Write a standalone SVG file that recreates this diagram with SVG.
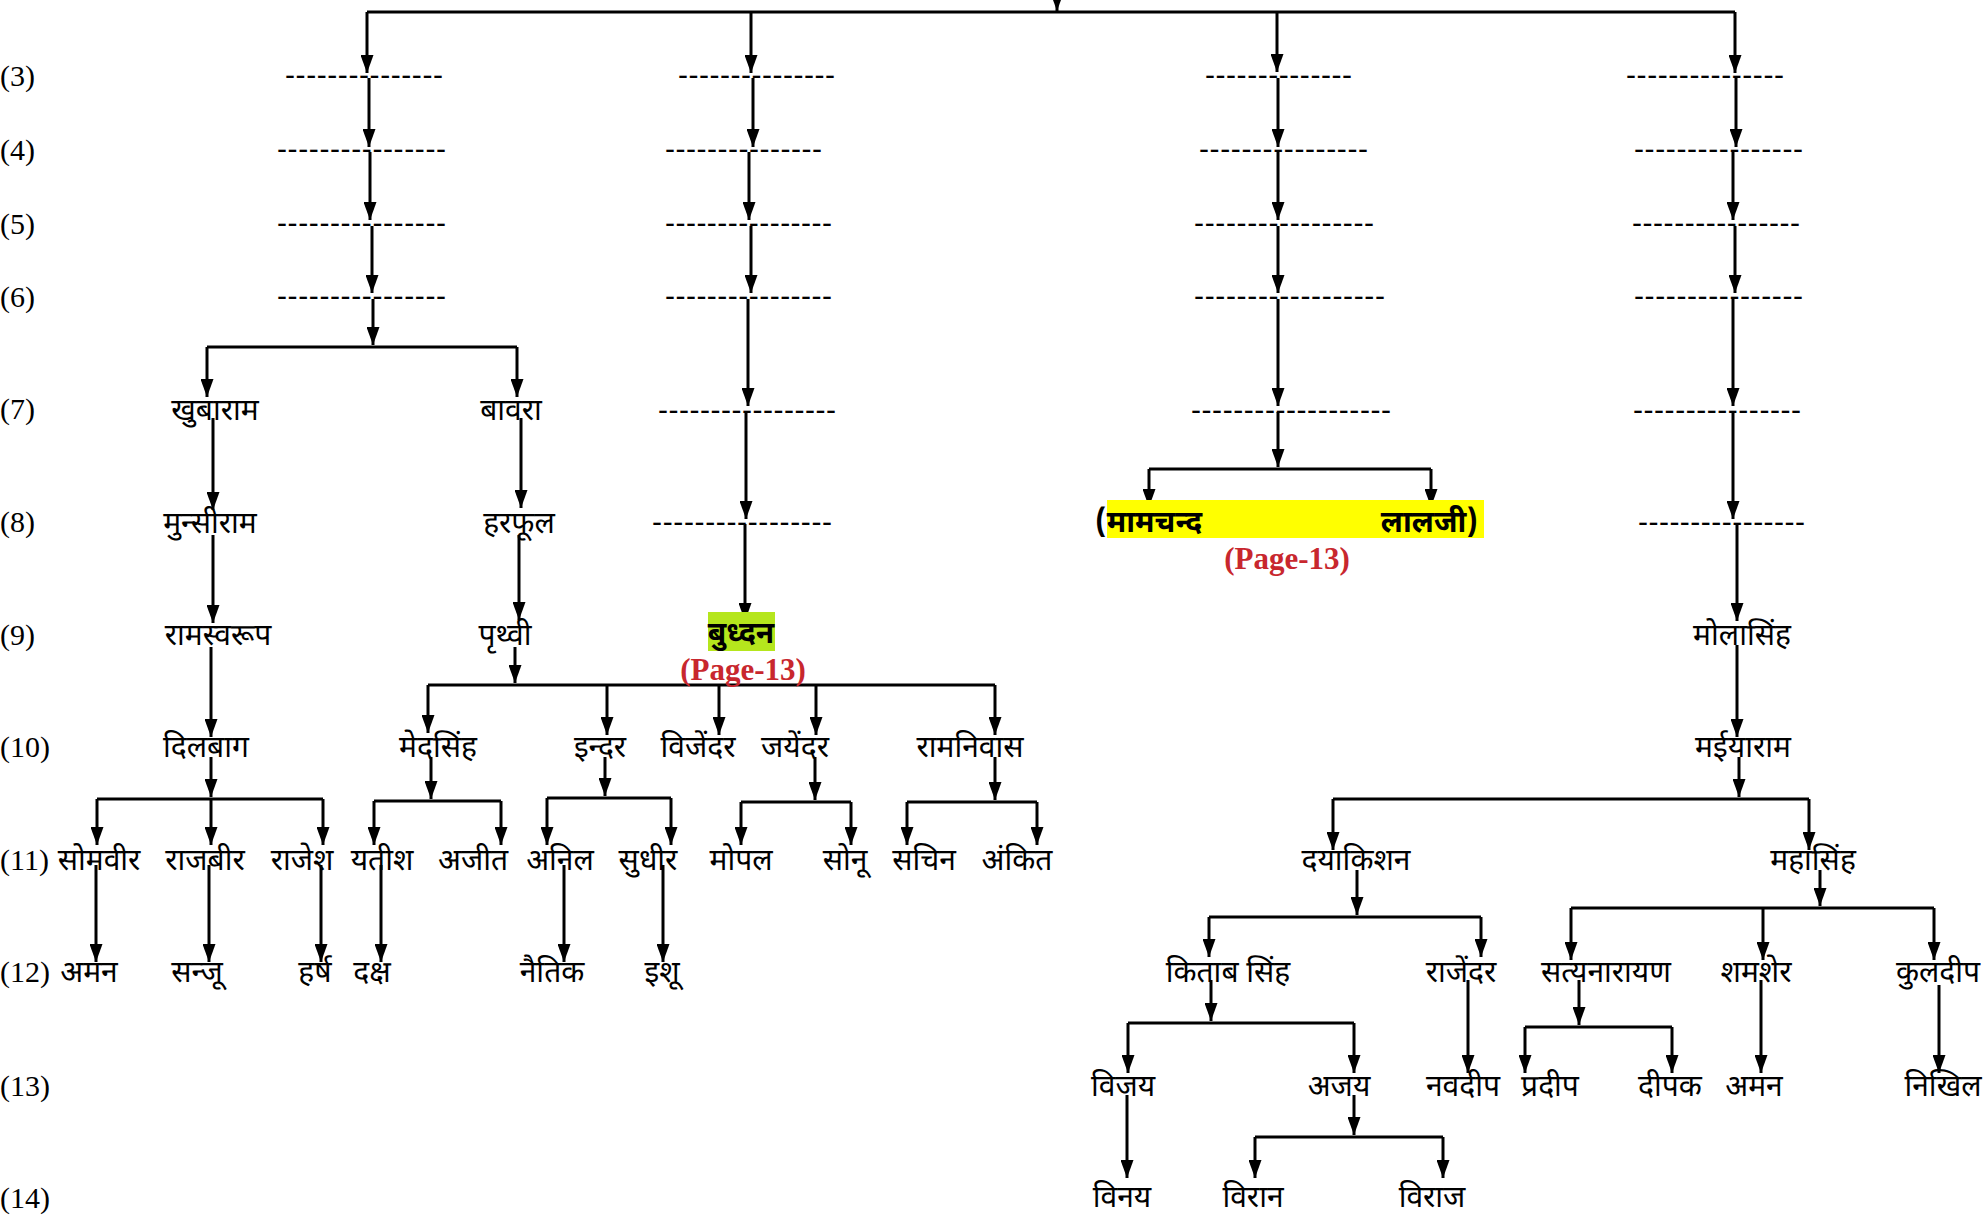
<svg xmlns="http://www.w3.org/2000/svg" width="1986" height="1217" viewBox="0 0 1986 1217">
<style>
.c{stroke:#000;stroke-width:3;fill:none}
.a{marker-end:url(#ah)}
.n{font-family:"Noto Sans Devanagari","Noto Sans",sans-serif;font-size:30px;text-anchor:middle;fill:#000}
.b{font-weight:bold}
.lbl{font-family:"Liberation Serif",serif;font-size:30px;fill:#000}
.d{font-family:"Liberation Sans",sans-serif;font-size:30px;fill:#000}
.pg{font-family:"Liberation Serif",serif;font-weight:bold;font-size:31px;fill:#c8272e;text-anchor:middle}
</style>
<defs>
<marker id="ah" viewBox="0 0 18 13" refX="18" refY="6.5" markerWidth="18" markerHeight="13" markerUnits="userSpaceOnUse" orient="auto"><path d="M0,0 L18,6.5 L0,13 z" fill="#000"/></marker>
</defs>
<rect width="1986" height="1217" fill="#fff"/>

<g id="generation-labels">
<text class="lbl" x="0" y="85.5">(3)</text>
<text class="lbl" x="0" y="159.5">(4)</text>
<text class="lbl" x="0" y="233.5">(5)</text>
<text class="lbl" x="0" y="306.5">(6)</text>
<text class="lbl" x="0" y="419">(7)</text>
<text class="lbl" x="0" y="532">(8)</text>
<text class="lbl" x="0" y="645">(9)</text>
<text class="lbl" x="0" y="757">(10)</text>
<text class="lbl" x="0" y="870">(11)</text>
<text class="lbl" x="0" y="982">(12)</text>
<text class="lbl" x="0" y="1096">(13)</text>
<text class="lbl" x="0" y="1208">(14)</text>
</g>

<g id="placeholders">
<text class="d" x="285" y="85" textLength="158" lengthAdjust="spacing">---------------</text>
<text class="d" x="277" y="159" textLength="169" lengthAdjust="spacing">----------------</text>
<text class="d" x="277" y="233" textLength="169" lengthAdjust="spacing">----------------</text>
<text class="d" x="277" y="306" textLength="169" lengthAdjust="spacing">----------------</text>

<text class="d" x="678" y="85" textLength="157" lengthAdjust="spacing">---------------</text>
<text class="d" x="665" y="159" textLength="157" lengthAdjust="spacing">---------------</text>
<text class="d" x="665" y="233" textLength="167" lengthAdjust="spacing">----------------</text>
<text class="d" x="665" y="306" textLength="167" lengthAdjust="spacing">----------------</text>
<text class="d" x="658" y="419.5" textLength="178" lengthAdjust="spacing">-----------------</text>
<text class="d" x="652" y="531.5" textLength="180" lengthAdjust="spacing">-----------------</text>

<text class="d" x="1205" y="85" textLength="147" lengthAdjust="spacing">--------------</text>
<text class="d" x="1199" y="159" textLength="169" lengthAdjust="spacing">----------------</text>
<text class="d" x="1194" y="233" textLength="180" lengthAdjust="spacing">-----------------</text>
<text class="d" x="1194" y="306" textLength="191" lengthAdjust="spacing">------------------</text>
<text class="d" x="1191" y="419.5" textLength="200" lengthAdjust="spacing">-------------------</text>

<text class="d" x="1626" y="85" textLength="158" lengthAdjust="spacing">---------------</text>
<text class="d" x="1634" y="159" textLength="169" lengthAdjust="spacing">----------------</text>
<text class="d" x="1632" y="233" textLength="168" lengthAdjust="spacing">----------------</text>
<text class="d" x="1634" y="306" textLength="169" lengthAdjust="spacing">----------------</text>
<text class="d" x="1633" y="419.5" textLength="168" lengthAdjust="spacing">----------------</text>
<text class="d" x="1638" y="531.5" textLength="167" lengthAdjust="spacing">----------------</text>
</g>

<g id="connectors">
<path class="c" d="M367,12 H1735"/>
<path class="c a" d="M1057,-30 V11"/>
<path class="c a" d="M367,12 V73"/>
<path class="c a" d="M369,78 V147"/>
<path class="c a" d="M370,152 V220"/>
<path class="c a" d="M372,226 V293"/>
<path class="c a" d="M373,299 V345"/>
<path class="c" d="M207,347 H517"/>
<path class="c a" d="M207,347 V397"/>
<path class="c a" d="M517,347 V397"/>
<path class="c a" d="M751,12 V73"/>
<path class="c a" d="M753,78 V147"/>
<path class="c a" d="M749,152 V220"/>
<path class="c a" d="M751,226 V293"/>
<path class="c a" d="M748,299 V406"/>
<path class="c a" d="M746,412 V519"/>
<path class="c a" d="M745,524 V621"/>
<path class="c a" d="M1277,12 V72"/>
<path class="c a" d="M1278,78 V147"/>
<path class="c a" d="M1278,152 V220"/>
<path class="c a" d="M1278,226 V293"/>
<path class="c a" d="M1278,299 V406"/>
<path class="c a" d="M1278,412 V467"/>
<path class="c" d="M1149,469 H1431"/>
<path class="c a" d="M1149,469 V507"/>
<path class="c a" d="M1431,469 V507"/>
<path class="c a" d="M1735,12 V73"/>
<path class="c a" d="M1736,78 V147"/>
<path class="c a" d="M1733,152 V220"/>
<path class="c a" d="M1735,226 V293"/>
<path class="c a" d="M1733,299 V406"/>
<path class="c a" d="M1733,412 V519"/>
<path class="c a" d="M1737,524 V621"/>
<path class="c a" d="M1737,645 V737"/>
<path class="c a" d="M1739,757 V797"/>
<path class="c" d="M1333,799 H1809"/>
<path class="c a" d="M1333,799 V850"/>
<path class="c a" d="M1809,799 V850"/>
<path class="c a" d="M213,418 V510"/>
<path class="c a" d="M213,535 V623"/>
<path class="c a" d="M211,647 V737"/>
<path class="c a" d="M211,757 V797"/>
<path class="c" d="M97,799 H323"/>
<path class="c a" d="M97,799 V845"/>
<path class="c a" d="M211,799 V845"/>
<path class="c a" d="M323,799 V845"/>
<path class="c a" d="M96,865 V962"/>
<path class="c a" d="M209,865 V962"/>
<path class="c a" d="M321,865 V962"/>
<path class="c a" d="M521,418 V508"/>
<path class="c a" d="M519,535 V620"/>
<path class="c a" d="M515,647 V683"/>
<path class="c" d="M428,685 H995"/>
<path class="c a" d="M428,685 V733"/>
<path class="c a" d="M607,685 V735"/>
<path class="c a" d="M719,685 V735"/>
<path class="c a" d="M816,685 V735"/>
<path class="c a" d="M995,685 V735"/>
<path class="c a" d="M431,757 V799"/>
<path class="c" d="M374,801 H501"/>
<path class="c a" d="M374,801 V845"/>
<path class="c a" d="M501,801 V845"/>
<path class="c a" d="M381,865 V962"/>
<path class="c a" d="M605,757 V796"/>
<path class="c" d="M547,798 H671"/>
<path class="c a" d="M547,798 V845"/>
<path class="c a" d="M671,798 V845"/>
<path class="c a" d="M564,865 V962"/>
<path class="c a" d="M663,865 V962"/>
<path class="c a" d="M815,757 V800"/>
<path class="c" d="M741,802 H851"/>
<path class="c a" d="M741,802 V845"/>
<path class="c a" d="M851,802 V845"/>
<path class="c a" d="M995,757 V800"/>
<path class="c" d="M907,802 H1037"/>
<path class="c a" d="M907,802 V845"/>
<path class="c a" d="M1037,802 V845"/>
<path class="c a" d="M1357,870 V915"/>
<path class="c" d="M1209,917 H1481"/>
<path class="c a" d="M1209,917 V957"/>
<path class="c a" d="M1481,917 V957"/>
<path class="c a" d="M1820,870 V906"/>
<path class="c" d="M1571,908 H1934"/>
<path class="c a" d="M1571,908 V960"/>
<path class="c a" d="M1763,908 V960"/>
<path class="c a" d="M1934,908 V960"/>
<path class="c a" d="M1211,980 V1021"/>
<path class="c" d="M1128,1023 H1354"/>
<path class="c a" d="M1128,1023 V1073"/>
<path class="c a" d="M1354,1023 V1073"/>
<path class="c a" d="M1468,980 V1073"/>
<path class="c a" d="M1579,980 V1025"/>
<path class="c" d="M1525,1027 H1672"/>
<path class="c a" d="M1525,1027 V1073"/>
<path class="c a" d="M1672,1027 V1073"/>
<path class="c a" d="M1761,980 V1073"/>
<path class="c a" d="M1939,985 V1073"/>
<path class="c a" d="M1127,1095 V1178"/>
<path class="c a" d="M1354,1095 V1135"/>
<path class="c" d="M1255,1137 H1443"/>
<path class="c a" d="M1255,1137 V1178"/>
<path class="c a" d="M1443,1137 V1178"/>
</g>

<g id="n-khubaram"><text class="n" x="215" y="420">खुबाराम</text></g>
<g id="n-bawra"><text class="n" x="511" y="420">बावरा</text></g>
<g id="n-munsiram"><text class="n" x="210" y="533">मुन्सीराम</text></g>
<g id="n-harphool"><text class="n" x="519" y="533">हरफूल</text></g>
<g id="n-mamchand-laalji">
<rect x="1107" y="500" width="377" height="38" fill="#ffff00"/>
<text class="n b" x="1095" y="532" style="text-anchor:start">(मामचन्द</text>
<text class="n b" x="1478" y="532" style="text-anchor:end">लालजी)</text>
<text class="pg" x="1287" y="569">(Page-13)</text>
</g>
<g id="n-ramswaroop"><text class="n" x="218" y="645">रामस्वरूप</text></g>
<g id="n-prithvi"><text class="n" x="505" y="645">पृथ्वी</text></g>
<g id="n-budhan">
<rect x="708" y="612" width="67" height="39" fill="#b5e61d"/>
<text class="n b" x="741" y="643">बुध्दन</text>
<text class="pg" x="743" y="680">(Page-13)</text>
</g>
<g id="n-molasingh"><text class="n" x="1742" y="645">मोलासिंह</text></g>
<g id="n-dilbag"><text class="n" x="206" y="757">दिलबाग</text></g>
<g id="n-medsingh"><text class="n" x="438" y="757">मेदसिंह</text></g>
<g id="n-indar"><text class="n" x="600" y="757">इन्दर</text></g>
<g id="n-vijender"><text class="n" x="698" y="757">विजेंदर</text></g>
<g id="n-jayender"><text class="n" x="795" y="757">जयेंदर</text></g>
<g id="n-ramniwas"><text class="n" x="970" y="757">रामनिवास</text></g>
<g id="n-maiyaram"><text class="n" x="1743" y="757">मईयाराम</text></g>
<g id="n-somveer"><text class="n" x="99" y="870">सोमवीर</text></g>
<g id="n-rajbeer"><text class="n" x="205" y="870">राजबीर</text></g>
<g id="n-rajesh"><text class="n" x="302" y="870">राजेश</text></g>
<g id="n-yatish"><text class="n" x="382" y="870">यतीश</text></g>
<g id="n-ajeet"><text class="n" x="473" y="870">अजीत</text></g>
<g id="n-anil"><text class="n" x="560" y="870">अनिल</text></g>
<g id="n-sudhir"><text class="n" x="648" y="870">सुधीर</text></g>
<g id="n-mopal"><text class="n" x="741" y="870">मोपल</text></g>
<g id="n-sonu"><text class="n" x="845" y="870">सोनू</text></g>
<g id="n-sachin"><text class="n" x="924" y="870">सचिन</text></g>
<g id="n-ankit"><text class="n" x="1017" y="870">अंकित</text></g>
<g id="n-dayakishan"><text class="n" x="1356" y="870">दयाकिशन</text></g>
<g id="n-mahasingh"><text class="n" x="1813" y="870">महासिंह</text></g>
<g id="n-aman"><text class="n" x="89" y="982">अमन</text></g>
<g id="n-sanju"><text class="n" x="197" y="982">सन्जू</text></g>
<g id="n-harsh"><text class="n" x="315" y="982">हर्ष</text></g>
<g id="n-daksh"><text class="n" x="372" y="982">दक्ष</text></g>
<g id="n-naitik"><text class="n" x="552" y="982">नैतिक</text></g>
<g id="n-ishu"><text class="n" x="662" y="982">इशू</text></g>
<g id="n-kitabsingh"><text class="n" x="1228" y="982">किताब सिंह</text></g>
<g id="n-rajender"><text class="n" x="1461" y="982">राजेंदर</text></g>
<g id="n-satyanarayan"><text class="n" x="1606" y="982">सत्यनारायण</text></g>
<g id="n-shamsher"><text class="n" x="1756" y="982">शमशेर</text></g>
<g id="n-kuldeep"><text class="n" x="1938" y="982">कुलदीप</text></g>
<g id="n-vijay"><text class="n" x="1123" y="1096">विजय</text></g>
<g id="n-ajay"><text class="n" x="1339" y="1096">अजय</text></g>
<g id="n-navdeep"><text class="n" x="1463" y="1096">नवदीप</text></g>
<g id="n-pradeep"><text class="n" x="1550" y="1096">प्रदीप</text></g>
<g id="n-deepak"><text class="n" x="1670" y="1096">दीपक</text></g>
<g id="n-aman2"><text class="n" x="1754" y="1096">अमन</text></g>
<g id="n-nikhil"><text class="n" x="1943" y="1096">निखिल</text></g>
<g id="n-vinay"><text class="n" x="1122" y="1207">विनय</text></g>
<g id="n-viran"><text class="n" x="1253" y="1207">विरान</text></g>
<g id="n-viraj"><text class="n" x="1432" y="1207">विराज</text></g>
</svg>
